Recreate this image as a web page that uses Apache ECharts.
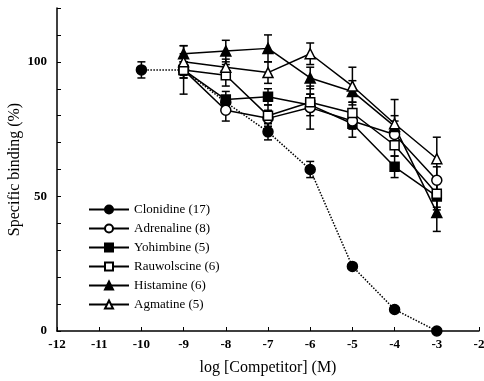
<!DOCTYPE html>
<html>
<head>
<meta charset="utf-8">
<script src="https://cdn.jsdelivr.net/npm/echarts@6/dist/echarts.min.js"></script>
<style>
  html, body { margin: 0; padding: 0; background: #fff; }
  #chart { width: 484px; height: 381px; }
</style>
</head>
<body>
<div id="chart"></div>
<script>
// log concentrations
var doseClon = [-10, -9, -8, -7, -6, -5, -4, -3]
var dose = [-9, -8, -7, -6, -5, -4, -3]

// % specific binding (mean) and SEM
var clonidine = [97, 97, 85, 74, 60, 24, 8, 0]
var clonidineErr = [3, 2, 2, 3, 3, 0, 0, 0]
var adrenaline = [97, 82, 79, 83, 78, 73, 56]
var adrenalineErr = [3, 4, 3, 8, 3, 5, 5]
var yohimbine = [97, 86, 87, 84, 77, 61, 50]
var yohimbineErr = [3, 3, 3, 4, 5, 4, 5]
var rauwolscine = [97, 95, 80, 85, 81, 69, 51]
var rauwolscineErr = [9, 4, 4, 3, 4, 4, 5]
var histamine = [103, 104, 105, 94, 89, 76, 44]
var histamineErr = [3, 4, 5, 4, 4, 4, 7]
var agmatine = [100, 98, 96, 103, 91, 77, 64]
var agmatineErr = [3, 3, 4, 4, 7, 9, 8]

var names = ['Clonidine (17)', 'Adrenaline (8)', 'Yohimbine (5)', 'Rauwolscine (6)', 'Histamine (6)', 'Agmatine (5)']

var FONT = '"Liberation Serif", "DejaVu Serif", serif'

function pairs(xs, ys) {
  return xs.map(function (x, i) { return [x, ys[i]] })
}
function triples(xs, ys, es) {
  return xs.map(function (x, i) { return [x, ys[i], es[i]] })
}

function errSeries(data) {
  return {
    type: 'custom',
    z: 1,
    silent: true,
    data: data,
    renderItem: function (params, api) {
      var x = api.value(0), y = api.value(1), e = api.value(2)
      if (!e) return null
      var hi = api.coord([x, y + e])
      var lo = api.coord([x, y - e])
      var w = 4
      var st = { stroke: '#000', lineWidth: 1.5 }
      return {
        type: 'group',
        children: [
          { type: 'line', shape: { x1: hi[0], y1: hi[1], x2: lo[0], y2: lo[1] }, style: st },
          { type: 'line', shape: { x1: hi[0] - w, y1: hi[1], x2: hi[0] + w, y2: hi[1] }, style: st },
          { type: 'line', shape: { x1: lo[0] - w, y1: lo[1], x2: lo[0] + w, y2: lo[1] }, style: st }
        ]
      }
    }
  }
}

function lineSeries(name, data, symbol, filled, dotted) {
  return {
    name: name,
    type: 'line',
    z: 3,
    data: data,
    symbol: symbol,
    symbolSize: symbol === 'rect' ? 9 : 10,
    showAllSymbol: true,
    lineStyle: { color: '#000', width: 1.5, type: dotted ? 'dotted' : 'solid' },
    itemStyle: { color: filled ? '#000' : '#fff', borderColor: '#000', borderWidth: 1.5 }
  }
}

var chart = echarts.init(document.getElementById('chart'))
chart.setOption({
  animation: false,
  backgroundColor: '#fff',
  grid: { left: 57, right: 5, top: 8, bottom: 50, containLabel: false, outerBoundsMode: 'none' },
  legend: {
    orient: 'vertical',
    left: 83,
    top: 198,
    padding: 5,
    itemWidth: 40,
    itemHeight: 10,
    itemGap: 6,
    textStyle: { fontFamily: FONT, fontSize: 13, color: '#000' },
    data: names.map(function (n) {
      return { name: n, lineStyle: { type: 'solid' } }
    })
  },
  xAxis: {
    type: 'value',
    min: -12,
    max: -2,
    interval: 1,
    name: 'log [Competitor] (M)',
    nameLocation: 'middle',
    nameGap: 29,
    nameMoveOverlap: false,
    nameTextStyle: { fontFamily: FONT, fontSize: 16, color: '#000' },
    axisLine: { lineStyle: { color: '#000', width: 1.5 } },
    axisTick: { inside: true, length: 4, lineStyle: { color: '#000' } },
    axisLabel: { fontFamily: FONT, fontSize: 13, fontWeight: 'bold', color: '#000', margin: 7 },
    splitLine: { show: false }
  },
  yAxis: {
    type: 'value',
    min: 0,
    max: 120,
    interval: 10,
    name: 'Specific binding (%)',
    nameLocation: 'middle',
    nameGap: 34,
    nameMoveOverlap: false,
    nameTextStyle: { fontFamily: FONT, fontSize: 16, color: '#000' },
    axisLine: { show: true, lineStyle: { color: '#000', width: 1.5 } },
    axisTick: { inside: true, length: 4, lineStyle: { color: '#000' } },
    axisLabel: {
      fontFamily: FONT, fontSize: 13, fontWeight: 'bold', color: '#000', margin: 10,
      formatter: function (v) { return v % 50 === 0 ? v : '' }
    },
    splitLine: { show: false }
  },
  series: [
    errSeries(triples(doseClon, clonidine, clonidineErr)),
    errSeries(triples(dose, adrenaline, adrenalineErr)),
    errSeries(triples(dose, yohimbine, yohimbineErr)),
    errSeries(triples(dose, rauwolscine, rauwolscineErr)),
    errSeries(triples(dose, histamine, histamineErr)),
    errSeries(triples(dose, agmatine, agmatineErr)),
    lineSeries(names[0], pairs(doseClon, clonidine), 'circle', true, true),
    lineSeries(names[2], pairs(dose, yohimbine), 'rect', true, false),
    lineSeries(names[1], pairs(dose, adrenaline), 'circle', false, false),
    lineSeries(names[3], pairs(dose, rauwolscine), 'rect', false, false),
    lineSeries(names[4], pairs(dose, histamine), 'triangle', true, false),
    lineSeries(names[5], pairs(dose, agmatine), 'triangle', false, false)
  ]
})
</script>
</body>
</html>
